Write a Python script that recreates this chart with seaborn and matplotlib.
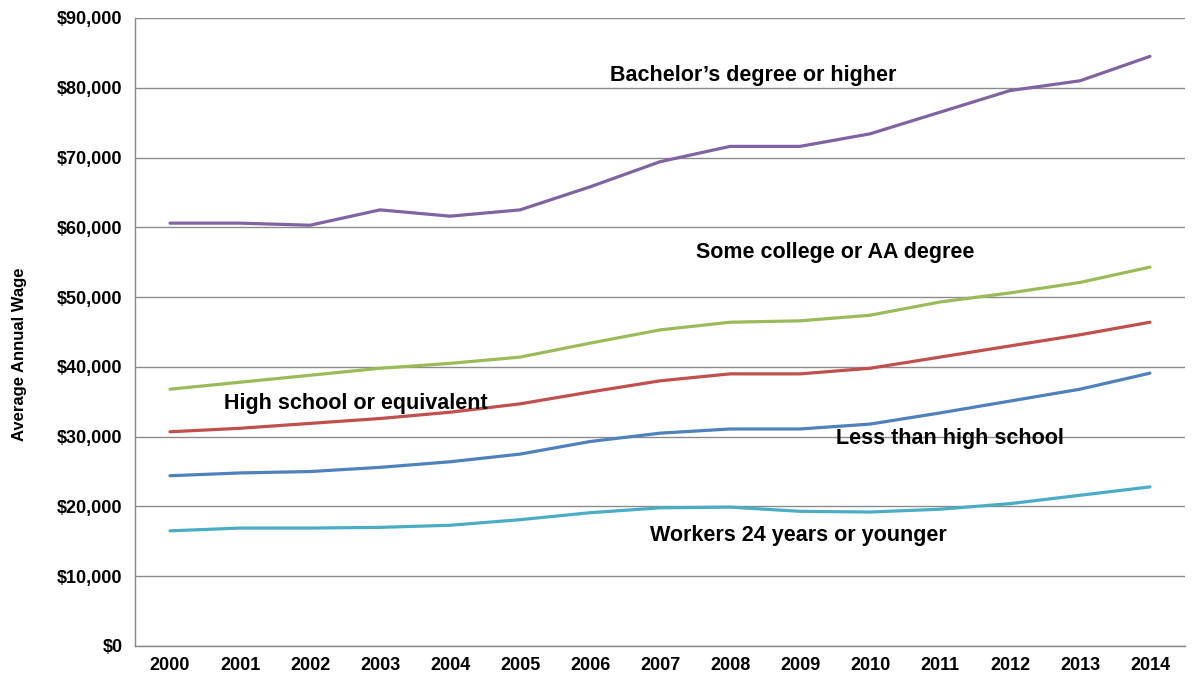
import numpy as np
import pandas as pd
import matplotlib
matplotlib.use("Agg")
import matplotlib.pyplot as plt
import seaborn as sns
from matplotlib.ticker import FuncFormatter, MultipleLocator

# =========================
# DATA
# =========================

years = list(range(2000, 2015))

bachelor = [60600, 60600, 60300, 62500, 61600, 62500, 65800, 69400, 71600, 71600,
            73400, 76500, 79600, 81000, 84500]
some_college = [36800, 37800, 38800, 39800, 40500, 41400, 43400, 45300, 46400, 46600,
                47400, 49300, 50600, 52100, 54300]
high_school = [30700, 31200, 31900, 32600, 33500, 34700, 36400, 38000, 39000, 39000,
               39800, 41400, 43000, 44600, 46400]
less_hs = [24400, 24800, 25000, 25600, 26400, 27500, 29300, 30500, 31100, 31100,
           31800, 33400, 35100, 36800, 39100]
young = [16500, 16900, 16900, 17000, 17300, 18100, 19100, 19800, 19900, 19300,
         19200, 19600, 20400, 21600, 22800]

series_names = ["Bachelor\u2019s degree or higher", "Some college or AA degree",
                "High school or equivalent", "Less than high school",
                "Workers 24 years or younger"]
series_values = [bachelor, some_college, high_school, less_hs, young]
colors = ["#8064A2", "#9BBB59", "#C0504D", "#4F81BD", "#4BACC6"]

# label positions (year, value)
label_pos = [(2008.33, 81700), (2009.5, 56400), (2002.66, 34800),
             (2011.14, 29800), (2008.97, 15900)]

df = pd.concat([
    pd.DataFrame({"Year": years, "Wage": vals, "Group": name})
    for name, vals in zip(series_names, series_values)
])

# =========================
# PLOT
# =========================

sns.set_style("white")
plt.rcParams['font.family'] = ['Liberation Sans', 'DejaVu Sans']

fig = plt.figure(figsize=(11.96, 6.87), dpi=100)
ax = fig.add_axes([0.1129, 0.0597, 0.8779, 0.9141])

sns.lineplot(data=df, x="Year", y="Wage", hue="Group", hue_order=series_names,
             palette=colors, linewidth=2.3, legend=False, ax=ax)

ax.set_xlim(1999.5, 2014.5)
ax.set_ylim(0, 90000)
ax.yaxis.set_major_locator(MultipleLocator(10000))
ax.yaxis.set_major_formatter(FuncFormatter(lambda v, p: f"${v:,.0f}"))
ax.set_xticks(years)
ax.set_xticks(np.arange(1999.5, 2015, 1), minor=True)
ax.tick_params(axis="x", which="major", length=0, pad=8)
ax.tick_params(axis="x", which="minor", length=5, color="#888888", direction="out")
ax.tick_params(axis="y", length=5, color="#888888", direction="out", pad=4)

for lab in ax.get_xticklabels() + ax.get_yticklabels():
    lab.set_fontweight("bold")
    lab.set_fontsize(13)
    lab.set_color("black")

ax.grid(axis="y", color="#8c8c8c", linewidth=1.0)
ax.set_axisbelow(True)
for side in ["top", "right"]:
    ax.spines[side].set_visible(False)
for side in ["left", "bottom"]:
    ax.spines[side].set_color("#888888")
    ax.spines[side].set_linewidth(1.0)

ax.set_xlabel("")
ax.set_ylabel("Average Annual Wage", fontsize=12, fontweight="bold", color="black")
ax.yaxis.set_label_coords(-0.103, 0.465)

for name, (x, y) in zip(series_names, label_pos):
    ax.text(x, y, name, ha="center", va="center", fontsize=15.5, fontweight="bold",
            color="black")

fig.savefig("out.png", dpi=100)
